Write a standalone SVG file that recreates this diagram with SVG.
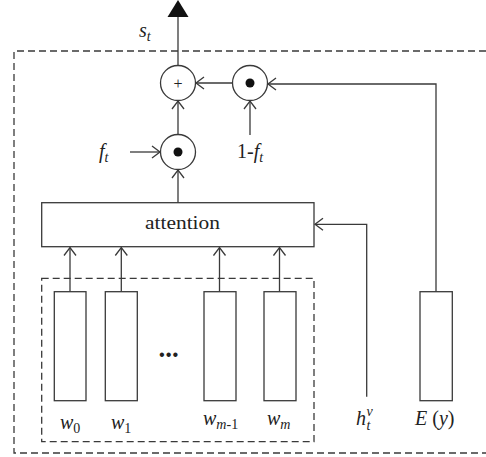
<svg xmlns="http://www.w3.org/2000/svg" width="486" height="457" viewBox="0 0 486 457">
<defs>
<style>
.ln{fill:none;stroke:#3a3a3a;stroke-width:1.3}
.box{fill:#fff;stroke:#3a3a3a;stroke-width:1.3}
.dash{fill:none;stroke:#3a3a3a;stroke-width:1.3;stroke-dasharray:7 4}
.t{font-family:"Liberation Serif","Times New Roman",serif;fill:#222}
.i{font-style:italic}
</style>
<marker id="oa" markerUnits="userSpaceOnUse" markerWidth="14" markerHeight="14" viewBox="-10 -7 12 14" refX="0" refY="0" orient="auto">
<path d="M-8,-6 L0,0 L-8,6" fill="none" stroke="#3a3a3a" stroke-width="1.3"/>
</marker>
</defs>
<rect width="486" height="457" fill="#fff"/>
<g id="outer-frame"><path class="dash" d="M486,51 H14 V453 H486"/></g>
<g id="inner-frame"><rect class="dash" x="41.7" y="278.3" width="272.3" height="163.4"/></g>
<g id="connectors">
<path class="ln" d="M178,65.5 V16"/>
<path d="M178,0 L188.5,17 L167.5,17 Z" fill="#111"/>
<path class="ln" d="M436,291.7 V84 H268" marker-end="url(#oa)"/>
<path class="ln" d="M232.5,83 H196" marker-end="url(#oa)"/>
<path class="ln" d="M250,135 V101" marker-end="url(#oa)"/>
<path class="ln" d="M178,134.5 V101" marker-end="url(#oa)"/>
<path class="ln" d="M130,152 H160" marker-end="url(#oa)"/>
<path class="ln" d="M178,202.7 V170" marker-end="url(#oa)"/>
<path class="ln" d="M366.7,396.7 V224.3 H315" marker-end="url(#oa)"/>
<path class="ln" d="M70,291.7 V247.5" marker-end="url(#oa)"/>
<path class="ln" d="M121.3,291.7 V247.5" marker-end="url(#oa)"/>
<path class="ln" d="M219.5,291.7 V247.5" marker-end="url(#oa)"/>
<path class="ln" d="M279.5,291.7 V247.5" marker-end="url(#oa)"/>
</g>
<g id="plus"><circle class="box" cx="178" cy="83" r="17.5"/><text class="t" x="178" y="88.5" font-size="16" text-anchor="middle">+</text></g>
<g id="mul-right"><circle class="box" cx="250" cy="83" r="17.5"/><circle cx="250" cy="83" r="4.5" fill="#111"/></g>
<g id="mul-lower"><circle class="box" cx="178" cy="152" r="17.5"/><circle cx="178" cy="152" r="4.5" fill="#111"/></g>
<g id="attention"><rect class="box" x="41.7" y="202.7" width="272.3" height="44"/><text class="t" x="182.5" y="229" font-size="19" text-anchor="middle" textLength="75" lengthAdjust="spacingAndGlyphs">attention</text></g>
<g id="w0"><rect class="box" x="54.3" y="291.7" width="31.7" height="109"/><text class="t i" x="60" y="429" font-size="20">w<tspan font-size="14" dy="4" font-style="normal">0</tspan></text></g>
<g id="w1"><rect class="box" x="105.3" y="291.7" width="32" height="109"/><text class="t i" x="111" y="429" font-size="20">w<tspan font-size="14" dy="4" font-style="normal">1</tspan></text></g>
<g id="dots"><text class="t" x="168.5" y="357" font-size="27" font-weight="bold" text-anchor="middle">...</text></g>
<g id="wm1"><rect class="box" x="204" y="291.7" width="32" height="109"/><text class="t i" x="203" y="425" font-size="20">w<tspan font-size="14" dy="4">m</tspan><tspan font-size="14" font-style="normal">-1</tspan></text></g>
<g id="wm"><rect class="box" x="264" y="291.7" width="32" height="109"/><text class="t i" x="267" y="425" font-size="20">w<tspan font-size="14" dy="4">m</tspan></text></g>
<g id="Ey"><rect class="box" x="420" y="291.7" width="32.3" height="109"/><text class="t" x="415" y="425" font-size="20"><tspan class="i">E</tspan> (<tspan class="i">y</tspan>)</text></g>
<g id="htv"><text class="t i" x="356" y="425" font-size="20">h</text><text class="t i" x="366.5" y="416" font-size="14">v</text><text class="t i" x="366.5" y="430" font-size="14">t</text></g>
<g id="labels">
<text class="t i" x="139" y="37" font-size="20">s<tspan font-size="14" dy="4">t</tspan></text>
<text class="t i" x="99" y="158" font-size="20">f<tspan font-size="14" dy="4">t</tspan></text>
<text class="t" x="237" y="158" font-size="20">1-<tspan class="i">f</tspan><tspan class="i" font-size="14" dy="4">t</tspan></text>
</g>
</svg>
